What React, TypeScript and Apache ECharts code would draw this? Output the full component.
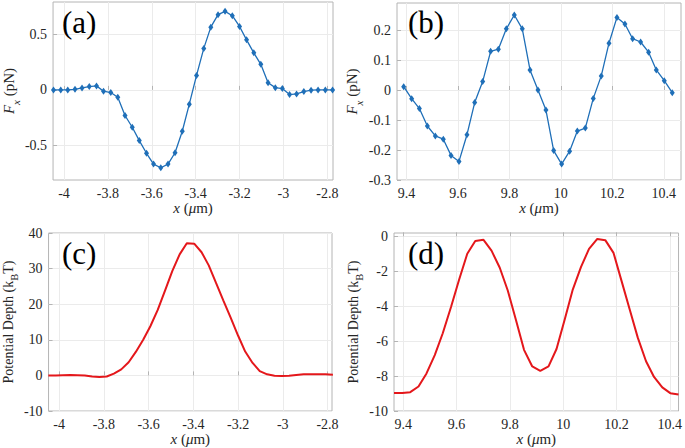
import React, { useEffect, useRef } from 'react';
import * as echarts from 'echarts';

// ---------- data ----------
const xA = [-4.048, -4.015, -3.983, -3.95, -3.918, -3.885, -3.852, -3.82, -3.787, -3.755,
  -3.722, -3.689, -3.657, -3.624, -3.592, -3.559, -3.526, -3.494, -3.461, -3.429,
  -3.396, -3.363, -3.331, -3.298, -3.266, -3.233, -3.2, -3.168, -3.135, -3.103,
  -3.07, -3.037, -3.005, -2.972, -2.94, -2.907, -2.874, -2.842, -2.809, -2.776];
const fxA = [0, 0, 0, 0.005, 0.018, 0.03, 0.036, -0.012, -0.024, -0.066,
  -0.23, -0.336, -0.456, -0.57, -0.667, -0.7, -0.667, -0.565, -0.372, -0.128,
  0.13, 0.373, 0.564, 0.676, 0.706, 0.667, 0.57, 0.45, 0.333, 0.23,
  0.064, 0.02, 0.012, -0.042, -0.036, -0.015, -0.003, 0, 0, 0];

const xB = [9.389, 9.42, 9.45, 9.481, 9.512, 9.543, 9.573, 9.604, 9.635, 9.665,
  9.696, 9.727, 9.757, 9.788, 9.819, 9.85, 9.88, 9.911, 9.942, 9.972,
  10.003, 10.034, 10.064, 10.095, 10.126, 10.157, 10.187, 10.218, 10.249, 10.279,
  10.31, 10.341, 10.371, 10.402, 10.433];
const fxB = [0.011, -0.029, -0.062, -0.12, -0.153, -0.164, -0.218, -0.238, -0.149, -0.042,
  0.028, 0.129, 0.136, 0.204, 0.25, 0.204, 0.067, 0, -0.067, -0.202,
  -0.247, -0.204, -0.137, -0.127, -0.028, 0.047, 0.156, 0.242, 0.22, 0.171,
  0.16, 0.126, 0.067, 0.031, -0.009];

const xC = xA;
const potC = [0, 0, 0.05, 0.1, 0.05, 0, -0.3, -0.45, -0.3, 0.5,
  1.7, 3.7, 6.6, 10, 13.8, 18.4, 23.9, 29.3, 34, 37.1,
  37, 34.6, 30.9, 25.9, 21.1, 16.2, 11.2, 6.7, 3.5, 1.2,
  0.3, -0.1, -0.2, -0.1, 0.1, 0.3, 0.35, 0.35, 0.3, 0.2];

const xD = [9.365, 9.396, 9.426, 9.457, 9.487, 9.518, 9.548, 9.579, 9.609, 9.64,
  9.67, 9.701, 9.731, 9.762, 9.792, 9.823, 9.853, 9.884, 9.914, 9.945,
  9.975, 10.006, 10.036, 10.067, 10.097, 10.128, 10.158, 10.189, 10.219, 10.25,
  10.28, 10.311, 10.341, 10.372, 10.402, 10.433];
const potD = [-8.97, -8.97, -8.92, -8.6, -7.85, -6.8, -5.55, -4.05, -2.5, -1.0,
  -0.27, -0.2, -0.82, -1.8, -3.1, -4.8, -6.5, -7.45, -7.7, -7.45,
  -6.45, -4.75, -3.05, -1.75, -0.72, -0.15, -0.22, -0.95, -2.55, -4.2,
  -5.8, -7.15, -8.05, -8.65, -8.98, -9.05];

const xTicksLeft = [-4, -3.8, -3.6, -3.4, -3.2, -3, -2.8];
const xTicksRight = [9.4, 9.6, 9.8, 10, 10.2, 10.4];
const yTicksA = [-0.5, 0, 0.5];
const yTicksB = [-0.3, -0.2, -0.1, 0, 0.1, 0.2];
const yTicksC = [-10, 0, 10, 20, 30, 40];
const yTicksD = [-10, -8, -6, -4, -2, 0];
const panelLabels = ['(a)', '(b)', '(c)', '(d)'];

// ---------- style ----------
const FONT = 'Times New Roman, Liberation Serif, DejaVu Serif, serif';
const TXT = '#262626';
const BORDER = '#b4b4b4';
const GRIDC = '#ebebeb';
const BLUE = '#1f6fb8';
const RED = '#e4171b';

const rich = {
  n: { fontFamily: FONT, fontSize: 15, color: TXT, lineHeight: 18, verticalAlign: 'top' },
  p: { fontFamily: FONT, fontSize: 14, color: TXT, lineHeight: 17, verticalAlign: 'top' },
  it: { fontFamily: FONT, fontSize: 15, color: TXT, fontStyle: 'italic', lineHeight: 18, verticalAlign: 'top' },
  sub: { fontFamily: FONT, fontSize: 10.5, color: TXT, lineHeight: 10.5, padding: [8, 0, 0, 0], verticalAlign: 'top' },
  subi: { fontFamily: FONT, fontSize: 11, color: TXT, fontStyle: 'italic', lineHeight: 11, padding: [9, 0, 0, 0], verticalAlign: 'top' },
};

const xName = '{it|x}{n| (}{it|μ}{n|m)}';
const fName = '{it|F}{subi|x}{n| (pN)}';
const pName = '{p|Potential Depth (k}{sub|B}{p|T)}';

function mkX(gridIndex: number, min: number, max: number, ticks: number[]) {
  return {
    type: 'value', gridIndex, min, max,
    name: xName, nameLocation: 'middle', nameGap: 20,
    nameTextStyle: { rich, fontFamily: FONT },
    axisLine: { show: false },
    axisTick: { show: true, inside: true, length: 4, lineStyle: { color: BORDER }, customValues: ticks },
    axisLabel: { customValues: ticks, color: TXT, fontFamily: FONT, fontSize: 14, margin: 6 },
    splitLine: { show: true, lineStyle: { color: GRIDC, width: 1 } },
  };
}
function mkY(gridIndex: number, min: number, max: number, ticks: number[], name: string, gap: number) {
  return {
    type: 'value', gridIndex, min, max,
    name, nameLocation: 'middle', nameGap: gap, nameRotate: 90,
    nameTextStyle: { rich, fontFamily: FONT },
    axisLine: { show: false },
    axisTick: { show: true, inside: true, length: 4, lineStyle: { color: BORDER }, customValues: ticks },
    axisLabel: { customValues: ticks, color: TXT, fontFamily: FONT, fontSize: 14, margin: 6 },
    splitLine: { show: true, lineStyle: { color: GRIDC, width: 1 } },
  };
}

export default function App() {
  const ref = useRef<HTMLDivElement>(null);
  useEffect(() => {
    const chart = echarts.init(ref.current!, null, { renderer: 'svg' });
    const gridBase = { show: true, borderColor: BORDER, borderWidth: 1, backgroundColor: 'transparent', containLabel: false };
    const labelPos = [[62, 22], [408, 22], [62, 253], [408, 253]];
    chart.setOption({
      animation: false,
      backgroundColor: '#ffffff',
      textStyle: { fontFamily: FONT },
      grid: [
        { ...gridBase, left: 48, top: 2, width: 285, height: 178 },
        { ...gridBase, left: 397, top: 3, width: 284, height: 177 },
        { ...gridBase, left: 46, top: 233, width: 286, height: 178 },
        { ...gridBase, left: 394, top: 233, width: 286, height: 178 },
      ],
      xAxis: [
        mkX(0, -4.05, -2.774, xTicksLeft),
        mkX(1, 9.363, 10.467, xTicksRight),
        mkX(2, -4.047, -2.78, xTicksLeft),
        mkX(3, 9.365, 10.433, xTicksRight),
      ],
      yAxis: [
        mkY(0, -0.81, 0.79, yTicksA, fName, 28),
        mkY(1, -0.3, 0.29, yTicksB, fName, 35),
        mkY(2, -10, 40, yTicksC, pName, 29),
        mkY(3, -10, 0.19, yTicksD, pName, 31),
      ],
      series: [
        {
          type: 'line', xAxisIndex: 0, yAxisIndex: 0,
          data: xA.map((x, i) => [x, fxA[i]]),
          symbol: 'diamond', symbolSize: [5, 7], showAllSymbol: true,
          lineStyle: { color: BLUE, width: 1.3 }, itemStyle: { color: BLUE },
        },
        {
          type: 'line', xAxisIndex: 1, yAxisIndex: 1,
          data: xB.map((x, i) => [x, fxB[i]]),
          symbol: 'diamond', symbolSize: [5, 7], showAllSymbol: true,
          lineStyle: { color: BLUE, width: 1.3 }, itemStyle: { color: BLUE },
        },
        {
          type: 'line', xAxisIndex: 2, yAxisIndex: 2,
          data: xC.map((x, i) => [x, potC[i]]),
          symbol: 'none', lineStyle: { color: RED, width: 2 },
        },
        {
          type: 'line', xAxisIndex: 3, yAxisIndex: 3,
          data: xD.map((x, i) => [x, potD[i]]),
          symbol: 'none', lineStyle: { color: RED, width: 2 },
        },
      ],
      graphic: panelLabels.map((t, i) => ({
        type: 'text', x: labelPos[i][0], y: labelPos[i][1], z: 100,
        style: { text: t, fontFamily: FONT, fontSize: 31, fill: '#000', verticalAlign: 'middle', align: 'left' },
      })),
    });
    return () => chart.dispose();
  }, []);
  return <div ref={ref} style={{ position: 'absolute', left: 0, top: 0, width: 685, height: 448, background: '#fff' }} />;
}
